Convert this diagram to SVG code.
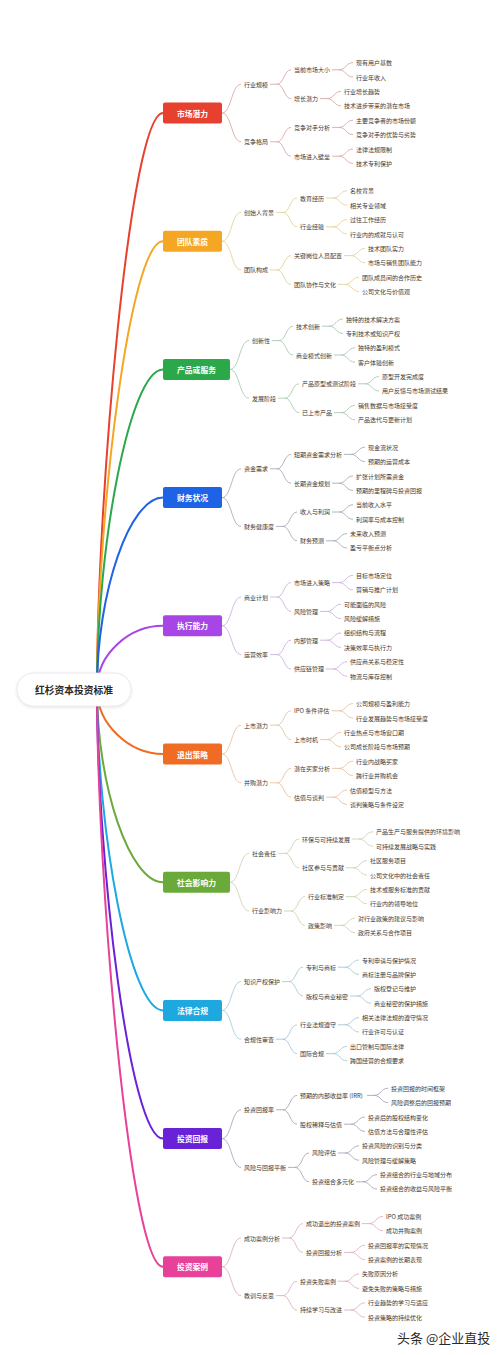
<svg xmlns="http://www.w3.org/2000/svg" width="500" height="1355" viewBox="0 0 500 1355">
<defs>
<filter id="sh" x="-20%" y="-40%" width="140%" height="180%"><feDropShadow dx="0" dy="1" stdDeviation="1.5" flood-color="#000" flood-opacity="0.12"/></filter>
<style>
.t{font-family:"Noto Sans CJK SC","Noto Sans",sans-serif;font-size:6px;fill:#3a3a3a;dominant-baseline:central}
.h{font-family:"Noto Sans CJK SC","Noto Sans",sans-serif;font-size:7.8px;fill:#fff;font-weight:700;text-anchor:middle;dominant-baseline:central}
.m{fill:none;stroke-width:2;stroke-linecap:round}
.s{fill:none;stroke-width:0.9}
.s1{stroke:#d9a9a3}.s2{stroke:#e3d39a}.s3{stroke:#a9c9b4}.s4{stroke:#a7adb9}.s5{stroke:#cdb2e0}
.s6{stroke:#e9c2a1}.s7{stroke:#c9d6b3}.s8{stroke:#a6cbd8}.s9{stroke:#aaa6bd}.s10{stroke:#dcb0c6}
</style>
</defs>
<rect width="500" height="1355" fill="#fff"/>
<g id="connectors">
<path class="m" stroke="#e8402e" d="M97 689C97 499 130 113 163 113"/>
<path class="m" stroke="#f5a623" d="M97 689C97 514 130 241.2 163 241.2"/>
<path class="m" stroke="#2aa84a" d="M97 689C97 545 130 369.4 163 369.4"/>
<path class="m" stroke="#1e62e6" d="M97 689C97 591 130 497.6 163 497.6"/>
<path class="m" stroke="#a745e6" d="M97 689C97 653 130 625.8 163 625.8"/>
<path class="m" stroke="#f06b23" d="M97 689C97 725 130 754 163 754"/>
<path class="m" stroke="#6aaa3a" d="M97 689C97 787 130 882.2 163 882.2"/>
<path class="m" stroke="#1ea8e0" d="M97 689C97 833 130 1010.4 163 1010.4"/>
<path class="m" stroke="#6a22d8" d="M97 689C97 864 130 1138.6 163 1138.6"/>
<path class="m" stroke="#e8419a" d="M97 689C97 879 130 1266.8 163 1266.8"/>
<g transform="translate(0,113)"><path class="s s1" d="M222 0C231.5 0 231.5 -28.8 241 -28.8M222 0C231.5 0 231.5 28.8 241 28.8M270 -28.8H277C284 -28.8 284 -43.2 291 -43.2M277 -28.8C284 -28.8 284 -14.4 291 -14.4M270 28.8H277C284 28.8 284 14.4 291 14.4M277 28.8C284 28.8 284 43.2 291 43.2M332 -43.2H339C346 -43.2 346 -50.4 353 -50.4M339 -43.2C346 -43.2 346 -36 353 -36M320 -14.4H327C334 -14.4 334 -21.6 341 -21.6M327 -14.4C334 -14.4 334 -7.2 341 -7.2M332 14.4H339C346 14.4 346 7.2 353 7.2M339 14.4C346 14.4 346 21.6 353 21.6M332 43.2H339C346 43.2 346 36 353 36M339 43.2C346 43.2 346 50.4 353 50.4"/></g>
<g transform="translate(0,241.2)"><path class="s s2" d="M222 0C231.5 0 231.5 -28.8 241 -28.8M222 0C231.5 0 231.5 28.8 241 28.8M276 -28.8H283C290 -28.8 290 -43.2 297 -43.2M283 -28.8C290 -28.8 290 -14.4 297 -14.4M270 28.8H277C284 28.8 284 14.4 291 14.4M277 28.8C284 28.8 284 43.2 291 43.2M326 -43.2H333C340 -43.2 340 -50.4 347 -50.4M333 -43.2C340 -43.2 340 -36 347 -36M326 -14.4H333C340 -14.4 340 -21.6 347 -21.6M333 -14.4C340 -14.4 340 -7.2 347 -7.2M344 14.4H351C358 14.4 358 7.2 365 7.2M351 14.4C358 14.4 358 21.6 365 21.6M338 43.2H345C352 43.2 352 36 359 36M345 43.2C352 43.2 352 50.4 359 50.4"/></g>
<g transform="translate(0,369.4)"><path class="s s3" d="M230 0C239.5 0 239.5 -28.8 249 -28.8M230 0C239.5 0 239.5 28.8 249 28.8M272 -28.8H279C286 -28.8 286 -43.2 293 -43.2M279 -28.8C286 -28.8 286 -14.4 293 -14.4M278 28.8H285C292 28.8 292 14.4 299 14.4M285 28.8C292 28.8 292 43.2 299 43.2M322 -43.2H329C336 -43.2 336 -50.4 343 -50.4M329 -43.2C336 -43.2 336 -36 343 -36M334 -14.4H341C348 -14.4 348 -21.6 355 -21.6M341 -14.4C348 -14.4 348 -7.2 355 -7.2M358 14.4H365C372 14.4 372 7.2 379 7.2M365 14.4C372 14.4 372 21.6 379 21.6M334 43.2H341C348 43.2 348 36 355 36M341 43.2C348 43.2 348 50.4 355 50.4"/></g>
<g transform="translate(0,497.6)"><path class="s s4" d="M222 0C231.5 0 231.5 -28.8 241 -28.8M222 0C231.5 0 231.5 28.8 241 28.8M270 -28.8H277C284 -28.8 284 -43.2 291 -43.2M277 -28.8C284 -28.8 284 -14.4 291 -14.4M276 28.8H283C290 28.8 290 14.4 297 14.4M283 28.8C290 28.8 290 43.2 297 43.2M344 -43.2H351C358 -43.2 358 -50.4 365 -50.4M351 -43.2C358 -43.2 358 -36 365 -36M332 -14.4H339C346 -14.4 346 -21.6 353 -21.6M339 -14.4C346 -14.4 346 -7.2 353 -7.2M332 14.4H339C346 14.4 346 7.2 353 7.2M339 14.4C346 14.4 346 21.6 353 21.6M326 43.2H333C340 43.2 340 36 347 36M333 43.2C340 43.2 340 50.4 347 50.4"/></g>
<g transform="translate(0,625.8)"><path class="s s5" d="M222 0C231.5 0 231.5 -28.8 241 -28.8M222 0C231.5 0 231.5 28.8 241 28.8M270 -28.8H277C284 -28.8 284 -43.2 291 -43.2M277 -28.8C284 -28.8 284 -14.4 291 -14.4M270 28.8H277C284 28.8 284 14.4 291 14.4M277 28.8C284 28.8 284 43.2 291 43.2M332 -43.2H339C346 -43.2 346 -50.4 353 -50.4M339 -43.2C346 -43.2 346 -36 353 -36M320 -14.4H327C334 -14.4 334 -21.6 341 -21.6M327 -14.4C334 -14.4 334 -7.2 341 -7.2M320 14.4H327C334 14.4 334 7.2 341 7.2M327 14.4C334 14.4 334 21.6 341 21.6M326 43.2H333C340 43.2 340 36 347 36M333 43.2C340 43.2 340 50.4 347 50.4"/></g>
<g transform="translate(0,754)"><path class="s s6" d="M222 0C231.5 0 231.5 -28.8 241 -28.8M222 0C231.5 0 231.5 28.8 241 28.8M270 -28.8H277C284 -28.8 284 -43.2 291 -43.2M277 -28.8C284 -28.8 284 -14.4 291 -14.4M270 28.8H277C284 28.8 284 14.4 291 14.4M277 28.8C284 28.8 284 43.2 291 43.2M332 -43.2H339C346 -43.2 346 -50.4 353 -50.4M339 -43.2C346 -43.2 346 -36 353 -36M320 -14.4H327C334 -14.4 334 -21.6 341 -21.6M327 -14.4C334 -14.4 334 -7.2 341 -7.2M332 14.4H339C346 14.4 346 7.2 353 7.2M339 14.4C346 14.4 346 21.6 353 21.6M326 43.2H333C340 43.2 340 36 347 36M333 43.2C340 43.2 340 50.4 347 50.4"/></g>
<g transform="translate(0,882.2)"><path class="s s7" d="M230 0C239.5 0 239.5 -28.8 249 -28.8M230 0C239.5 0 239.5 28.8 249 28.8M278 -28.8H285C292 -28.8 292 -43.2 299 -43.2M285 -28.8C292 -28.8 292 -14.4 299 -14.4M284 28.8H291C298 28.8 298 14.4 305 14.4M291 28.8C298 28.8 298 43.2 305 43.2M352 -43.2H359C366 -43.2 366 -50.4 373 -50.4M359 -43.2C366 -43.2 366 -36 373 -36M346 -14.4H353C360 -14.4 360 -21.6 367 -21.6M353 -14.4C360 -14.4 360 -7.2 367 -7.2M346 14.4H353C360 14.4 360 7.2 367 7.2M353 14.4C360 14.4 360 21.6 367 21.6M334 43.2H341C348 43.2 348 36 355 36M341 43.2C348 43.2 348 50.4 355 50.4"/></g>
<g transform="translate(0,1010.4)"><path class="s s8" d="M222 0C231.5 0 231.5 -28.8 241 -28.8M222 0C231.5 0 231.5 28.8 241 28.8M282 -28.8H289C296 -28.8 296 -43.2 303 -43.2M289 -28.8C296 -28.8 296 -14.4 303 -14.4M276 28.8H283C290 28.8 290 14.4 297 14.4M283 28.8C290 28.8 290 43.2 297 43.2M338 -43.2H345C352 -43.2 352 -50.4 359 -50.4M345 -43.2C352 -43.2 352 -36 359 -36M350 -14.4H357C364 -14.4 364 -21.6 371 -21.6M357 -14.4C364 -14.4 364 -7.2 371 -7.2M338 14.4H345C352 14.4 352 7.2 359 7.2M345 14.4C352 14.4 352 21.6 359 21.6M326 43.2H333C340 43.2 340 36 347 36M333 43.2C340 43.2 340 50.4 347 50.4"/></g>
<g transform="translate(0,1138.6)"><path class="s s9" d="M222 0C231.5 0 231.5 -28.8 241 -28.8M222 0C231.5 0 231.5 28.8 241 28.8M276 -28.8H283C290 -28.8 290 -43.2 297 -43.2M283 -28.8C290 -28.8 290 -14.4 297 -14.4M288 28.8H295C302 28.8 302 14.4 309 14.4M295 28.8C302 28.8 302 43.2 309 43.2M367 -43.2H374C381 -43.2 381 -50.4 388 -50.4M374 -43.2C381 -43.2 381 -36 388 -36M344 -14.4H351C358 -14.4 358 -21.6 365 -21.6M351 -14.4C358 -14.4 358 -7.2 365 -7.2M338 14.4H345C352 14.4 352 7.2 359 7.2M345 14.4C352 14.4 352 21.6 359 21.6M356 43.2H363C370 43.2 370 36 377 36M363 43.2C370 43.2 370 50.4 377 50.4"/></g>
<g transform="translate(0,1266.8)"><path class="s s10" d="M222 0C231.5 0 231.5 -28.8 241 -28.8M222 0C231.5 0 231.5 28.8 241 28.8M282 -28.8H289C296 -28.8 296 -43.2 303 -43.2M289 -28.8C296 -28.8 296 -14.4 303 -14.4M276 28.8H283C290 28.8 290 14.4 297 14.4M283 28.8C290 28.8 290 43.2 297 43.2M362 -43.2H369C376 -43.2 376 -50.4 383 -50.4M369 -43.2C376 -43.2 376 -36 383 -36M344 -14.4H351C358 -14.4 358 -21.6 365 -21.6M351 -14.4C358 -14.4 358 -7.2 365 -7.2M338 14.4H345C352 14.4 352 7.2 359 7.2M345 14.4C352 14.4 352 21.6 359 21.6M344 43.2H351C358 43.2 358 36 365 36M351 43.2C358 43.2 358 50.4 365 50.4"/></g>
</g>
<g id="nodes">
<g id="root"><rect x="17" y="673" width="114" height="33" rx="16.5" fill="#fff" stroke="#e4e4e4" stroke-width="0.8" filter="url(#sh)"/><text x="74" y="689.5" text-anchor="middle" dominant-baseline="central" font-family="Noto Sans CJK SC, Noto Sans, sans-serif" font-size="9.75" font-weight="700" fill="#2b2b2b">红杉资本投资标准</text></g>

<g id="b1" transform="translate(0,113)">
<g id="n1"><rect x="163" y="-10.5" width="59" height="21" rx="2" fill="#e8402e"/><text class="h" x="192.5" y="0">市场潜力</text></g>
<g id="n1a"><text class="t" x="244" y="-28.8">行业规模</text></g>
<g id="n1b"><text class="t" x="244" y="28.8">竞争格局</text></g>
<g id="n1a1"><text class="t" x="294" y="-43.2">当前市场大小</text></g>
<g id="n1a2"><text class="t" x="294" y="-14.4">增长潜力</text></g>
<g id="n1b1"><text class="t" x="294" y="14.4">竞争对手分析</text></g>
<g id="n1b2"><text class="t" x="294" y="43.2">市场进入壁垒</text></g>
<g id="n1a1x"><text class="t" x="356" y="-50.4">现有用户基数</text></g>
<g id="n1a1y"><text class="t" x="356" y="-36">行业年收入</text></g>
<g id="n1a2x"><text class="t" x="344" y="-21.6">行业增长趋势</text></g>
<g id="n1a2y"><text class="t" x="344" y="-7.2">技术进步带来的潜在市场</text></g>
<g id="n1b1x"><text class="t" x="356" y="7.2">主要竞争者的市场份额</text></g>
<g id="n1b1y"><text class="t" x="356" y="21.6">竞争对手的优势与劣势</text></g>
<g id="n1b2x"><text class="t" x="356" y="36">法律法规限制</text></g>
<g id="n1b2y"><text class="t" x="356" y="50.4">技术专利保护</text></g>
</g>

<g id="b2" transform="translate(0,241.2)">
<g id="n2"><rect x="163" y="-10.5" width="59" height="21" rx="2" fill="#f5a623"/><text class="h" x="192.5" y="0">团队素质</text></g>
<g id="n2a"><text class="t" x="244" y="-28.8">创始人背景</text></g>
<g id="n2b"><text class="t" x="244" y="28.8">团队构成</text></g>
<g id="n2a1"><text class="t" x="300" y="-43.2">教育经历</text></g>
<g id="n2a2"><text class="t" x="300" y="-14.4">行业经验</text></g>
<g id="n2b1"><text class="t" x="294" y="14.4">关键岗位人员配置</text></g>
<g id="n2b2"><text class="t" x="294" y="43.2">团队协作与文化</text></g>
<g id="n2a1x"><text class="t" x="350" y="-50.4">名校背景</text></g>
<g id="n2a1y"><text class="t" x="350" y="-36">相关专业领域</text></g>
<g id="n2a2x"><text class="t" x="350" y="-21.6">过往工作经历</text></g>
<g id="n2a2y"><text class="t" x="350" y="-7.2">行业内的成就与认可</text></g>
<g id="n2b1x"><text class="t" x="368" y="7.2">技术团队实力</text></g>
<g id="n2b1y"><text class="t" x="368" y="21.6">市场与销售团队能力</text></g>
<g id="n2b2x"><text class="t" x="362" y="36">团队成员间的合作历史</text></g>
<g id="n2b2y"><text class="t" x="362" y="50.4">公司文化与价值观</text></g>
</g>

<g id="b3" transform="translate(0,369.4)">
<g id="n3"><rect x="163" y="-10.5" width="67" height="21" rx="2" fill="#2aa84a"/><text class="h" x="196.5" y="0">产品或服务</text></g>
<g id="n3a"><text class="t" x="252" y="-28.8">创新性</text></g>
<g id="n3b"><text class="t" x="252" y="28.8">发展阶段</text></g>
<g id="n3a1"><text class="t" x="296" y="-43.2">技术创新</text></g>
<g id="n3a2"><text class="t" x="296" y="-14.4">商业模式创新</text></g>
<g id="n3b1"><text class="t" x="302" y="14.4">产品原型或测试阶段</text></g>
<g id="n3b2"><text class="t" x="302" y="43.2">已上市产品</text></g>
<g id="n3a1x"><text class="t" x="346" y="-50.4">独特的技术解决方案</text></g>
<g id="n3a1y"><text class="t" x="346" y="-36">专利技术或知识产权</text></g>
<g id="n3a2x"><text class="t" x="358" y="-21.6">独特的盈利模式</text></g>
<g id="n3a2y"><text class="t" x="358" y="-7.2">客户体验创新</text></g>
<g id="n3b1x"><text class="t" x="382" y="7.2">原型开发完成度</text></g>
<g id="n3b1y"><text class="t" x="382" y="21.6">用户反馈与市场测试结果</text></g>
<g id="n3b2x"><text class="t" x="358" y="36">销售数据与市场接受度</text></g>
<g id="n3b2y"><text class="t" x="358" y="50.4">产品迭代与更新计划</text></g>
</g>

<g id="b4" transform="translate(0,497.6)">
<g id="n4"><rect x="163" y="-10.5" width="59" height="21" rx="2" fill="#1e62e6"/><text class="h" x="192.5" y="0">财务状况</text></g>
<g id="n4a"><text class="t" x="244" y="-28.8">资金需求</text></g>
<g id="n4b"><text class="t" x="244" y="28.8">财务健康度</text></g>
<g id="n4a1"><text class="t" x="294" y="-43.2">短期资金需求分析</text></g>
<g id="n4a2"><text class="t" x="294" y="-14.4">长期资金规划</text></g>
<g id="n4b1"><text class="t" x="300" y="14.4">收入与利润</text></g>
<g id="n4b2"><text class="t" x="300" y="43.2">财务预测</text></g>
<g id="n4a1x"><text class="t" x="368" y="-50.4">现金流状况</text></g>
<g id="n4a1y"><text class="t" x="368" y="-36">预期的运营成本</text></g>
<g id="n4a2x"><text class="t" x="356" y="-21.6">扩张计划所需资金</text></g>
<g id="n4a2y"><text class="t" x="356" y="-7.2">预期的里程碑与投资回报</text></g>
<g id="n4b1x"><text class="t" x="356" y="7.2">当前收入水平</text></g>
<g id="n4b1y"><text class="t" x="356" y="21.6">利润率与成本控制</text></g>
<g id="n4b2x"><text class="t" x="350" y="36">未来收入预测</text></g>
<g id="n4b2y"><text class="t" x="350" y="50.4">盈亏平衡点分析</text></g>
</g>

<g id="b5" transform="translate(0,625.8)">
<g id="n5"><rect x="163" y="-10.5" width="59" height="21" rx="2" fill="#a745e6"/><text class="h" x="192.5" y="0">执行能力</text></g>
<g id="n5a"><text class="t" x="244" y="-28.8">商业计划</text></g>
<g id="n5b"><text class="t" x="244" y="28.8">运营效率</text></g>
<g id="n5a1"><text class="t" x="294" y="-43.2">市场进入策略</text></g>
<g id="n5a2"><text class="t" x="294" y="-14.4">风险管理</text></g>
<g id="n5b1"><text class="t" x="294" y="14.4">内部管理</text></g>
<g id="n5b2"><text class="t" x="294" y="43.2">供应链管理</text></g>
<g id="n5a1x"><text class="t" x="356" y="-50.4">目标市场定位</text></g>
<g id="n5a1y"><text class="t" x="356" y="-36">营销与推广计划</text></g>
<g id="n5a2x"><text class="t" x="344" y="-21.6">可能面临的风险</text></g>
<g id="n5a2y"><text class="t" x="344" y="-7.2">风险缓解措施</text></g>
<g id="n5b1x"><text class="t" x="344" y="7.2">组织结构与流程</text></g>
<g id="n5b1y"><text class="t" x="344" y="21.6">决策效率与执行力</text></g>
<g id="n5b2x"><text class="t" x="350" y="36">供应商关系与稳定性</text></g>
<g id="n5b2y"><text class="t" x="350" y="50.4">物流与库存控制</text></g>
</g>

<g id="b6" transform="translate(0,754)">
<g id="n6"><rect x="163" y="-10.5" width="59" height="21" rx="2" fill="#f06b23"/><text class="h" x="192.5" y="0">退出策略</text></g>
<g id="n6a"><text class="t" x="244" y="-28.8">上市潜力</text></g>
<g id="n6b"><text class="t" x="244" y="28.8">并购潜力</text></g>
<g id="n6a1"><text class="t" x="294" y="-43.2">IPO 条件评估</text></g>
<g id="n6a2"><text class="t" x="294" y="-14.4">上市时机</text></g>
<g id="n6b1"><text class="t" x="294" y="14.4">潜在买家分析</text></g>
<g id="n6b2"><text class="t" x="294" y="43.2">估值与谈判</text></g>
<g id="n6a1x"><text class="t" x="356" y="-50.4">公司规模与盈利能力</text></g>
<g id="n6a1y"><text class="t" x="356" y="-36">行业发展趋势与市场接受度</text></g>
<g id="n6a2x"><text class="t" x="344" y="-21.6">行业热点与市场窗口期</text></g>
<g id="n6a2y"><text class="t" x="344" y="-7.2">公司成长阶段与市场预期</text></g>
<g id="n6b1x"><text class="t" x="356" y="7.2">行业内战略买家</text></g>
<g id="n6b1y"><text class="t" x="356" y="21.6">跨行业并购机会</text></g>
<g id="n6b2x"><text class="t" x="350" y="36">估值模型与方法</text></g>
<g id="n6b2y"><text class="t" x="350" y="50.4">谈判策略与条件设定</text></g>
</g>

<g id="b7" transform="translate(0,882.2)">
<g id="n7"><rect x="163" y="-10.5" width="67" height="21" rx="2" fill="#6aaa3a"/><text class="h" x="196.5" y="0">社会影响力</text></g>
<g id="n7a"><text class="t" x="252" y="-28.8">社会责任</text></g>
<g id="n7b"><text class="t" x="252" y="28.8">行业影响力</text></g>
<g id="n7a1"><text class="t" x="302" y="-43.2">环保与可持续发展</text></g>
<g id="n7a2"><text class="t" x="302" y="-14.4">社区参与与贡献</text></g>
<g id="n7b1"><text class="t" x="308" y="14.4">行业标准制定</text></g>
<g id="n7b2"><text class="t" x="308" y="43.2">政策影响</text></g>
<g id="n7a1x"><text class="t" x="376" y="-50.4">产品生产与服务提供的环境影响</text></g>
<g id="n7a1y"><text class="t" x="376" y="-36">可持续发展战略与实践</text></g>
<g id="n7a2x"><text class="t" x="370" y="-21.6">社区服务项目</text></g>
<g id="n7a2y"><text class="t" x="370" y="-7.2">公司文化中的社会责任</text></g>
<g id="n7b1x"><text class="t" x="370" y="7.2">技术或服务标准的贡献</text></g>
<g id="n7b1y"><text class="t" x="370" y="21.6">行业内的领导地位</text></g>
<g id="n7b2x"><text class="t" x="358" y="36">对行业政策的建议与影响</text></g>
<g id="n7b2y"><text class="t" x="358" y="50.4">政府关系与合作项目</text></g>
</g>

<g id="b8" transform="translate(0,1010.4)">
<g id="n8"><rect x="163" y="-10.5" width="59" height="21" rx="2" fill="#1ea8e0"/><text class="h" x="192.5" y="0">法律合规</text></g>
<g id="n8a"><text class="t" x="244" y="-28.8">知识产权保护</text></g>
<g id="n8b"><text class="t" x="244" y="28.8">合规性审查</text></g>
<g id="n8a1"><text class="t" x="306" y="-43.2">专利与商标</text></g>
<g id="n8a2"><text class="t" x="306" y="-14.4">版权与商业秘密</text></g>
<g id="n8b1"><text class="t" x="300" y="14.4">行业法规遵守</text></g>
<g id="n8b2"><text class="t" x="300" y="43.2">国际合规</text></g>
<g id="n8a1x"><text class="t" x="362" y="-50.4">专利申请与保护情况</text></g>
<g id="n8a1y"><text class="t" x="362" y="-36">商标注册与品牌保护</text></g>
<g id="n8a2x"><text class="t" x="374" y="-21.6">版权登记与维护</text></g>
<g id="n8a2y"><text class="t" x="374" y="-7.2">商业秘密的保护措施</text></g>
<g id="n8b1x"><text class="t" x="362" y="7.2">相关法律法规的遵守情况</text></g>
<g id="n8b1y"><text class="t" x="362" y="21.6">行业许可与认证</text></g>
<g id="n8b2x"><text class="t" x="350" y="36">出口管制与国际法律</text></g>
<g id="n8b2y"><text class="t" x="350" y="50.4">跨国经营的合规要求</text></g>
</g>

<g id="b9" transform="translate(0,1138.6)">
<g id="n9"><rect x="163" y="-10.5" width="59" height="21" rx="2" fill="#6a22d8"/><text class="h" x="192.5" y="0">投资回报</text></g>
<g id="n9a"><text class="t" x="244" y="-28.8">投资回报率</text></g>
<g id="n9b"><text class="t" x="244" y="28.8">风险与回报平衡</text></g>
<g id="n9a1"><text class="t" x="300" y="-43.2">预期的内部收益率 (IRR)</text></g>
<g id="n9a2"><text class="t" x="300" y="-14.4">股权稀释与估值</text></g>
<g id="n9b1"><text class="t" x="312" y="14.4">风险评估</text></g>
<g id="n9b2"><text class="t" x="312" y="43.2">投资组合多元化</text></g>
<g id="n9a1x"><text class="t" x="391" y="-50.4">投资回报的时间框架</text></g>
<g id="n9a1y"><text class="t" x="391" y="-36">风险调整后的回报预期</text></g>
<g id="n9a2x"><text class="t" x="368" y="-21.6">投资后的股权结构变化</text></g>
<g id="n9a2y"><text class="t" x="368" y="-7.2">估值方法与合理性评估</text></g>
<g id="n9b1x"><text class="t" x="362" y="7.2">投资风险的识别与分类</text></g>
<g id="n9b1y"><text class="t" x="362" y="21.6">风险管理与缓解策略</text></g>
<g id="n9b2x"><text class="t" x="380" y="36">投资组合的行业与地域分布</text></g>
<g id="n9b2y"><text class="t" x="380" y="50.4">投资组合的收益与风险平衡</text></g>
</g>

<g id="b10" transform="translate(0,1266.8)">
<g id="n10"><rect x="163" y="-10.5" width="59" height="21" rx="2" fill="#e8419a"/><text class="h" x="192.5" y="0">投资案例</text></g>
<g id="n10a"><text class="t" x="244" y="-28.8">成功案例分析</text></g>
<g id="n10b"><text class="t" x="244" y="28.8">教训与反思</text></g>
<g id="n10a1"><text class="t" x="306" y="-43.2">成功退出的投资案例</text></g>
<g id="n10a2"><text class="t" x="306" y="-14.4">投资回报分析</text></g>
<g id="n10b1"><text class="t" x="300" y="14.4">投资失败案例</text></g>
<g id="n10b2"><text class="t" x="300" y="43.2">持续学习与改进</text></g>
<g id="n10a1x"><text class="t" x="386" y="-50.4">IPO 成功案例</text></g>
<g id="n10a1y"><text class="t" x="386" y="-36">成功并购案例</text></g>
<g id="n10a2x"><text class="t" x="368" y="-21.6">投资回报率的实现情况</text></g>
<g id="n10a2y"><text class="t" x="368" y="-7.2">投资案例的长期表现</text></g>
<g id="n10b1x"><text class="t" x="362" y="7.2">失败原因分析</text></g>
<g id="n10b1y"><text class="t" x="362" y="21.6">避免失败的策略与措施</text></g>
<g id="n10b2x"><text class="t" x="368" y="36">行业趋势的学习与适应</text></g>
<g id="n10b2y"><text class="t" x="368" y="50.4">投资策略的持续优化</text></g>
</g>
</g>
<g id="watermark"><text x="397" y="1337" dominant-baseline="central" font-family="Noto Sans CJK SC, Noto Sans, sans-serif" font-size="13" fill="#2a2a2a">头条 @企业直投</text></g>
</svg>
